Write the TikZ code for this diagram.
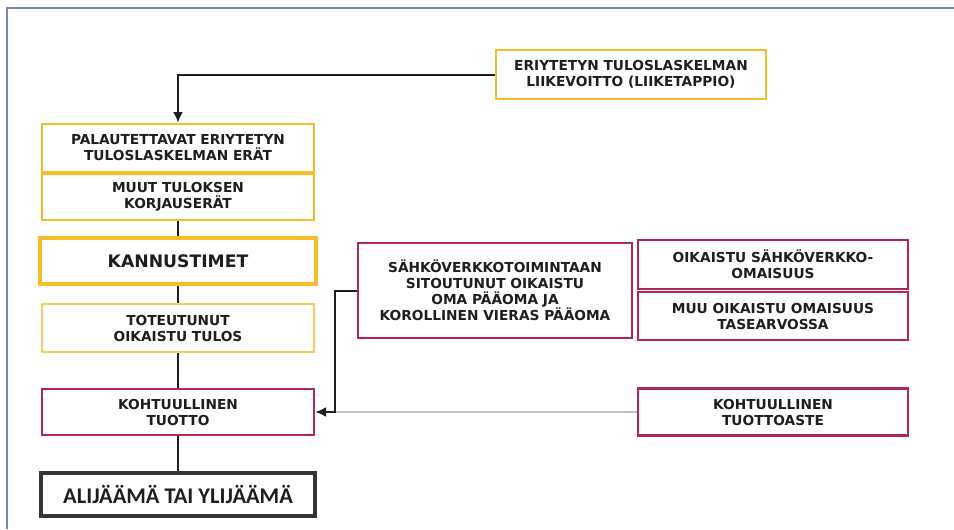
\documentclass[tikz,border=0pt]{standalone}
\usepackage{fontspec}
\setmainfont{DejaVu Sans}
\newfontfamily\calfont{Carlito}
\usetikzlibrary{arrows.meta}
\definecolor{gold}{RGB}{243,190,40}
\definecolor{lightgold}{RGB}{246,206,95}
\definecolor{crim}{RGB}{178,38,90}
\definecolor{frameblue}{RGB}{120,138,165}
\definecolor{ink}{RGB}{30,30,30}

\begin{document}
\begin{tikzpicture}[x=0.75pt,y=-0.75pt,
  every node/.style={rectangle,align=center,inner sep=0pt,text=ink,font=\fontsize{10.3}{12}\selectfont\bfseries},
  ybox/.style={draw=gold,line width=2pt,minimum width=204pt,minimum height=36pt},
  rbox/.style={draw=crim,line width=2pt,minimum width=204pt,minimum height=35pt},
  link/.style={line width=1.5pt,draw=ink},
  arr/.style={link,-{Latex[length=8pt,width=7.5pt]}}]
  \useasboundingbox (0,0) rectangle (954,529);
  \draw[frameblue,line width=1.1pt] (7,529) -- (7,8) -- (954,8);
  % left column
  \node[ybox,minimum width=202.5pt,minimum height=36.75pt] (tulos) at (631,74.5) {ERIYTETYN TULOSLASKELMAN\\LIIKEVOITTO (LIIKETAPPIO)};
  \node[ybox] (palaut) at (178,148) {PALAUTETTAVAT ERIYTETYN\\TULOSLASKELMAN ERÄT};
  \node[ybox,minimum height=34.5pt] (muut) at (178,197) {MUUT TULOKSEN\\KORJAUSERÄT};
  \node[ybox,line width=3pt,minimum width=207pt,minimum height=34.5pt,font=\fontsize{12.9}{15}\selectfont\bfseries] (kannus) at (178,261) {KANNUSTIMET};
  \node[ybox,draw=lightgold] (toteut) at (178,328) {TOTEUTUNUT\\OIKAISTU TULOS};
  \node[rbox,minimum height=34.5pt] (kohtuu) at (178,412) {KOHTUULLINEN\\TUOTTO};
  \node[draw=ink!90,line width=2.8pt,minimum width=205.5pt,minimum height=32.25pt,font=\calfont\bfseries\fontsize{16.8}{18}\selectfont] (alijaama) at (178,494.5) {ALIJÄÄMÄ TAI YLIJÄÄMÄ};
  % right side
  \node[rbox,minimum width=205.5pt,minimum height=71.25pt] (sahko) at (495,290.5) {SÄHKÖVERKKOTOIMINTAAN\\SITOUTUNUT OIKAISTU\\OMA PÄÄOMA JA\\KOROLLINEN VIERAS PÄÄOMA};
  \node[rbox,minimum width=202.5pt,minimum height=36.75pt] (oikomai) at (773,264.5) {OIKAISTU SÄHKÖVERKKO-\\OMAISUUS};
  \node[rbox,minimum width=202.5pt,minimum height=36pt] (muuomai) at (773,316) {MUU OIKAISTU OMAISUUS\\TASEARVOSSA};
  \node[rbox,minimum width=202.5pt,minimum height=35.25pt] (aste) at (773,412) {KOHTUULLINEN\\TUOTTOASTE};
  \coordinate (bend) at (335,412);
  % connectors
  \draw[arr] (tulos.west) -| (palaut.north);
  \draw[link] (muut.south) -- (kannus.north);
  \draw[link] (kannus.south) -- (toteut.north);
  \draw[link] (toteut.south) -- (kohtuu.north);
  \draw[link] (kohtuu.south) -- (alijaama.north);
  \draw[black!25,line width=0.8pt] (aste.west) -- (bend);
  \draw[arr] (sahko.west) -| (bend) -- (kohtuu.east);
\end{tikzpicture}
\end{document}
